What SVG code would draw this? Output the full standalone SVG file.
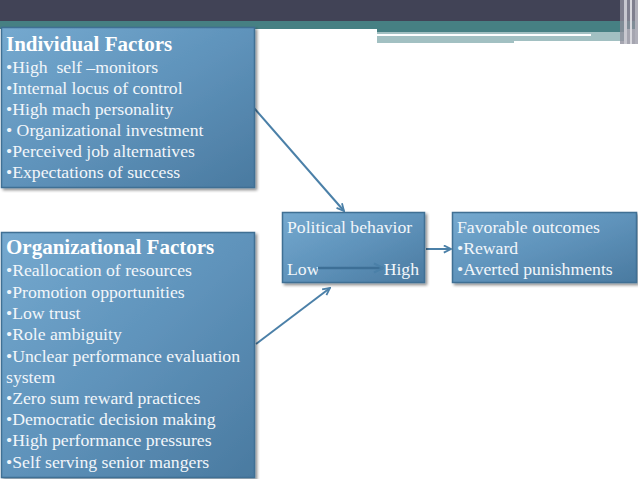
<svg xmlns="http://www.w3.org/2000/svg" width="638" height="479" viewBox="0 0 638 479">
<defs>
<linearGradient id="bg" x1="0" y1="0" x2="1" y2="1">
<stop offset="0" stop-color="#75a9cf"/>
<stop offset="0.5" stop-color="#5f93bb"/>
<stop offset="1" stop-color="#4a7aa0"/>
</linearGradient>
<filter id="sh" x="-5%" y="-5%" width="115%" height="115%">
<feGaussianBlur in="SourceAlpha" stdDeviation="1.5"/>
<feOffset dx="1.5" dy="2" result="o"/>
<feComponentTransfer><feFuncA type="linear" slope="0.45"/></feComponentTransfer>
<feMerge><feMergeNode/><feMergeNode in="SourceGraphic"/></feMerge>
</filter>
<marker id="ah" viewBox="0 0 10 10" refX="9" refY="5" markerWidth="4.5" markerHeight="4.5" orient="auto">
<path d="M1,1 L9,5 L1,9" fill="none" stroke="#4b80a8" stroke-width="2"/>
</marker>
</defs>
<style>
.box{fill:url(#bg);stroke:#3f6f94;stroke-width:1.5;filter:url(#sh)}
.t{font-family:"Liberation Serif","Times New Roman",serif;fill:#f2f6fa;font-size:17.7px}
.h{font-family:"Liberation Serif","Times New Roman",serif;fill:#ffffff;font-size:21px;font-weight:bold}
.c{stroke:#4b80a8;stroke-width:2;fill:none;marker-end:url(#ah)}
.ci{stroke:#3d6f96;stroke-width:2.5;fill:none;marker-end:url(#ah)}
</style>
<rect width="638" height="479" fill="#ffffff"/>
<g id="header">
<rect x="0" y="0" width="638" height="21" fill="#414356"/>
<rect x="0" y="21" width="638" height="8" fill="#468083"/>
<rect x="377" y="29" width="250" height="14" fill="#a2c0c2"/>
<rect x="377" y="29" width="250" height="3" fill="#468083"/>
<rect x="377" y="34" width="214" height="2" fill="#ffffff"/>
<rect x="514" y="41" width="113" height="2" fill="#ffffff"/>
<rect x="620" y="0" width="18" height="44" fill="#8f8f9c" opacity="0.8"/>
<rect x="624" y="0" width="3" height="44" fill="#c8c8d0"/>
<rect x="630" y="0" width="2" height="44" fill="#d8d8de"/>
<rect x="635" y="0" width="3" height="44" fill="#b0b0ba"/>
</g>
<g id="connectors">
<line class="c" x1="254" y1="108" x2="344" y2="211"/>
<line class="c" x1="256" y1="344" x2="330" y2="288"/>
<line class="c" x1="426" y1="249" x2="451" y2="249"/>
</g>
<g id="individual">
<rect class="box" x="1.5" y="27.5" width="253" height="160"/>
<text class="h" x="6" y="51">Individual Factors</text>
<text class="t" x="6" y="73" xml:space="preserve">•High  self –monitors</text>
<text class="t" x="6" y="94">•Internal locus of control</text>
<text class="t" x="6" y="115">•High mach personality</text>
<text class="t" x="6" y="136">• Organizational investment</text>
<text class="t" x="6" y="157">•Perceived job alternatives</text>
<text class="t" x="6" y="178">•Expectations of success</text>
</g>
<g id="organizational">
<rect class="box" x="1.5" y="232.5" width="253" height="245"/>
<text class="h" x="6" y="254">Organizational Factors</text>
<text class="t" x="6" y="276">•Reallocation of resources</text>
<text class="t" x="6" y="298">•Promotion opportunities</text>
<text class="t" x="6" y="319">•Low trust</text>
<text class="t" x="6" y="340">•Role ambiguity</text>
<text class="t" x="6" y="362">•Unclear performance evaluation</text>
<text class="t" x="6" y="383">system</text>
<text class="t" x="6" y="404">•Zero sum reward practices</text>
<text class="t" x="6" y="425">•Democratic decision making</text>
<text class="t" x="6" y="446">•High performance pressures</text>
<text class="t" x="6" y="468">•Self serving senior mangers</text>
</g>
<g id="political">
<rect class="box" x="282.5" y="212.5" width="142" height="70"/>
<text class="t" x="287" y="233">Political behavior</text>
<text class="t" x="287" y="275">Low</text>
<text class="t" x="419" y="275" text-anchor="end">High</text>
<line class="ci" x1="318" y1="268" x2="383" y2="268"/>
</g>
<g id="outcomes">
<rect class="box" x="452.5" y="212.5" width="184" height="70"/>
<text class="t" x="457" y="233">Favorable outcomes</text>
<text class="t" x="457" y="254">•Reward</text>
<text class="t" x="457" y="275">•Averted punishments</text>
</g>
</svg>
